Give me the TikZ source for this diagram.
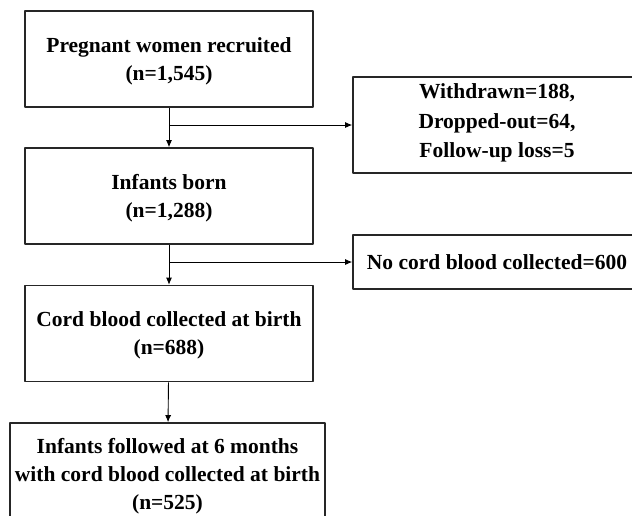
\documentclass[tikz,border=0pt]{standalone}
\usepackage{fontspec}
\setmainfont{Liberation Serif}
\usetikzlibrary{arrows.meta}

\begin{document}
\begin{tikzpicture}[x=1pt, y=-1pt, line join=bevel]
  % \w is the width of the flow boxes, \h the height
  % of the two-line boxes.
  \pgfmathsetmacro{\w}{288}
  \pgfmathsetmacro{\h}{96}

  \tikzset{
    box_text/.style={font=\fontsize{21.5}{28}\selectfont\bfseries,
      align=center, inner sep=0pt, text depth=-5pt},
    flow_box/.style={box_text, draw=black!85, line width=1.6pt,
      minimum width=\w pt, minimum height=\h pt},
    flow_arrow/.style={line width=0.9pt, -{Latex[length=7pt,width=6pt]}},
  }

  \useasboundingbox (0,0) rectangle (632,515);
  \clip (0,0) rectangle (632,515);

  % main column
  \node[flow_box] (recruited) at (169,59)  {Pregnant women recruited\\(n=1,545)};
  \node[flow_box] (born)      at (169,196) {Infants born\\(n=1,288)};
  \node[flow_box] (cord)      at (169,333.5) {Cord blood collected at birth\\(n=688)};
  \node[flow_box, minimum width=315pt, minimum height=102pt] (followed) at (167.5,474)
    {Infants followed at 6 months\\with cord blood collected at birth\\(n=525)};

  % exclusions on the right
  \node[flow_box, font=\fontsize{21.5}{29.5}\selectfont\bfseries, text depth=8pt]
    (lost) at (497,125) {Withdrawn=188,\\Dropped-out=64,\\Follow-up loss=5};
  \node[flow_box, minimum height=54pt, text depth=0pt] (nocord) at (497,262)
    {No cord blood collected=600};

  \coordinate (split_a) at (recruited.south |- lost.west);
  \coordinate (split_b) at (born.south |- nocord.west);

  \draw[flow_arrow] (recruited) -- (born);
  \draw[flow_arrow] (born) -- (cord);
  \draw[flow_arrow] (cord) -- (followed);
  \draw[flow_arrow] (split_a) -- (lost);
  \draw[flow_arrow] (split_b) -- (nocord);
\end{tikzpicture}
\end{document}
